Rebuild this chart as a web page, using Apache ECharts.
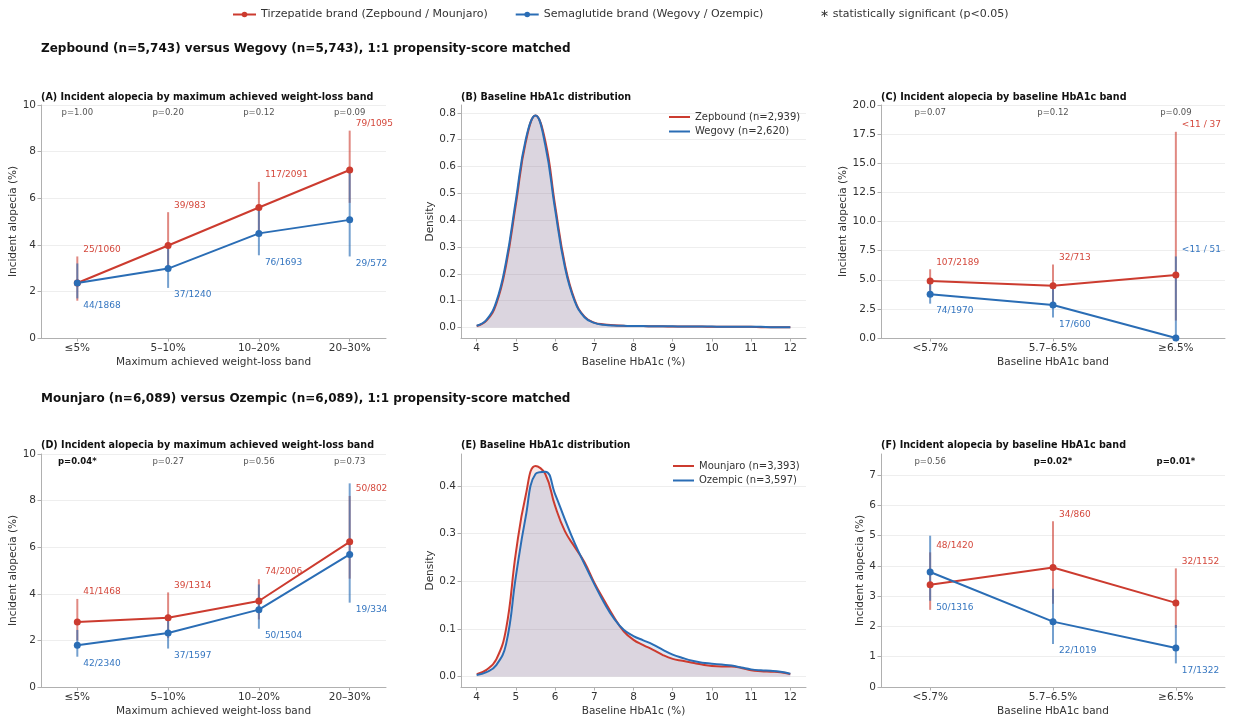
<!DOCTYPE html>
<html>
<head>
<meta charset="utf-8">
<script src="https://cdn.jsdelivr.net/npm/echarts@6/dist/echarts.min.js"></script>
<style>
  html, body { margin: 0; background: #fff; }
  #chart { width: 1233px; height: 723px; }
</style>
</head>
<body>
<div id="chart"></div>
<script>
const FONT = '"DejaVu Sans", sans-serif';
const RED = '#cc3b2f';
const BLUE = '#2a6db5';
const RED_BAR = 'rgba(204,59,47,0.6)';
const BLUE_BAR = 'rgba(42,109,181,0.65)';
const RED_TXT = '#d4483c';
const BLUE_TXT = '#3576c0';
const AXIS = '#b0b0b0';

const NAME_T = 'Tirzepatide brand (Zepbound / Mounjaro)';
const NAME_S = 'Semaglutide brand (Wegovy / Ozempic)';

// categories
const lossBands = ['≤5%', '5–10%', '10–20%', '20–30%'];
const hba1cBands = ['<5.7%', '5.7–6.5%', '≥6.5%'];

// (A) Zepbound vs Wegovy, weight-loss band
const aRed = [2.36, 3.97, 5.60, 7.21];
const aRedLo = [1.6, 2.85, 4.6, 5.8];
const aRedHi = [3.5, 5.4, 6.7, 8.9];
const aRedN = ['25/1060', '39/983', '117/2091', '79/1095'];
const aBlue = [2.36, 2.98, 4.49, 5.07];
const aBlueLo = [1.7, 2.15, 3.55, 3.5];
const aBlueHi = [3.2, 4.05, 5.5, 7.2];
const aBlueN = ['44/1868', '37/1240', '76/1693', '29/572'];
const aP = ['p=1.00', 'p=0.20', 'p=0.12', 'p=0.09'];
const aSig = [false, false, false, false];

// (C) Zepbound vs Wegovy, HbA1c band
const cRed = [4.89, 4.49, 5.41];
const cRedLo = [4.0, 3.0, 1.5];
const cRedHi = [5.9, 6.3, 17.7];
const cRedN = ['107/2189', '32/713', '<11 / 37'];
const cBlue = [3.76, 2.83, 0];
const cBlueLo = [2.95, 1.75, 0];
const cBlueHi = [4.7, 4.5, 7.0];
const cBlueN = ['74/1970', '17/600', '<11 / 51'];
const cP = ['p=0.07', 'p=0.12', 'p=0.09'];
const cSig = [false, false, false];

// (D) Mounjaro vs Ozempic, weight-loss band
const dRed = [2.79, 2.97, 3.69, 6.23];
const dRedLo = [2.0, 2.1, 2.9, 4.65];
const dRedHi = [3.78, 4.06, 4.63, 8.2];
const dRedN = ['41/1468', '39/1314', '74/2006', '50/802'];
const dBlue = [1.79, 2.32, 3.32, 5.69];
const dBlueLo = [1.3, 1.65, 2.5, 3.62];
const dBlueHi = [2.45, 3.1, 4.4, 8.74];
const dBlueN = ['42/2340', '37/1597', '50/1504', '19/334'];
const dP = ['p=0.04*', 'p=0.27', 'p=0.56', 'p=0.73'];
const dSig = [true, false, false, false];

// (F) Mounjaro vs Ozempic, HbA1c band
const fRed = [3.38, 3.95, 2.78];
const fRedLo = [2.55, 2.75, 1.95];
const fRedHi = [4.45, 5.48, 3.92];
const fRedN = ['48/1420', '34/860', '32/1152'];
const fBlue = [3.80, 2.16, 1.29];
const fBlueLo = [2.85, 1.42, 0.78];
const fBlueHi = [5.0, 3.25, 2.05];
const fBlueN = ['50/1316', '22/1019', '17/1322'];
const fP = ['p=0.56', 'p=0.02*', 'p=0.01*'];
const fSig = [false, true, true];

// density curves, baseline HbA1c (%)
const hbX = [4, 4.25, 4.5, 4.75, 5, 5.25, 5.5, 5.75, 6, 6.25, 6.5, 6.75, 7, 7.25, 7.5, 7.75, 8,
  8.25, 8.5, 8.75, 9, 9.25, 9.5, 9.75, 10, 10.25, 10.5, 10.75, 11, 11.25, 11.5, 11.75, 12];
const zepDens = [0.005, 0.025, 0.088, 0.232, 0.46, 0.69, 0.79, 0.695, 0.455, 0.235, 0.103, 0.040, 0.018, 0.011, 0.008, 0.006, 0.005,
  0.005, 0.004, 0.004, 0.003, 0.003, 0.003, 0.003, 0.002, 0.002, 0.002, 0.002, 0.002, 0.001, 0.001, 0.001, 0.001];
const wegDens = [0.006, 0.028, 0.095, 0.245, 0.475, 0.70, 0.79, 0.68, 0.44, 0.225, 0.098, 0.038, 0.017, 0.010, 0.007, 0.006, 0.005,
  0.005, 0.004, 0.004, 0.004, 0.003, 0.003, 0.003, 0.003, 0.002, 0.002, 0.002, 0.002, 0.002, 0.001, 0.001, 0.001];
const mouDens = [0.005, 0.014, 0.036, 0.10, 0.26, 0.38, 0.442, 0.425, 0.358, 0.305, 0.272, 0.24, 0.197, 0.16, 0.125, 0.095, 0.077,
  0.066, 0.056, 0.045, 0.037, 0.033, 0.029, 0.025, 0.022, 0.021, 0.021, 0.018, 0.013, 0.011, 0.010, 0.009, 0.005];
const ozeDens = [0.003, 0.009, 0.024, 0.068, 0.21, 0.335, 0.425, 0.43, 0.383, 0.33, 0.28, 0.236, 0.194, 0.155, 0.122, 0.098, 0.085,
  0.076, 0.067, 0.056, 0.046, 0.039, 0.033, 0.029, 0.027, 0.025, 0.023, 0.019, 0.015, 0.013, 0.012, 0.010, 0.006];

const grids = [
  { left: 41, top: 105, width: 345, height: 233 },
  { left: 461, top: 105, width: 345, height: 233 },
  { left: 881, top: 105, width: 344, height: 233 },
  { left: 41, top: 454, width: 345, height: 233 },
  { left: 461, top: 454, width: 345, height: 233 },
  { left: 881, top: 454, width: 344, height: 233 },
].map(g => ({ ...g, outerBoundsMode: 'none', containLabel: false }));

const range = n => Array.from({ length: n }, (_, i) => i);

function baseAxis(idx) {
  return {
    gridIndex: idx,
    axisLine: { show: true, onZero: false, lineStyle: { color: AXIS, width: 1 } },
    axisTick: { show: true, length: 3.5, lineStyle: { color: AXIS } },
    axisLabel: { color: '#333', fontSize: 10.5, fontFamily: FONT, margin: 5 },
    nameTextStyle: { color: '#333', fontSize: 10.5, fontFamily: FONT },
    nameLocation: 'middle',
    splitLine: { show: false },
  };
}

function bandX(idx, cats, name) {
  const ax = baseAxis(idx);
  const vals = range(cats.length);
  return {
    ...ax, type: 'value', min: -0.4, max: cats.length - 0.6, name, nameGap: 19,
    axisLabel: { ...ax.axisLabel, customValues: vals, formatter: v => cats[Math.round(v)] },
    axisTick: { ...ax.axisTick, customValues: vals },
  };
}

function hbXAxis(idx) {
  const ax = baseAxis(idx);
  const vals = [4, 5, 6, 7, 8, 9, 10, 11, 12];
  return {
    ...ax, type: 'value', min: 3.6, max: 12.4, name: 'Baseline HbA1c (%)', nameGap: 19,
    axisLabel: { ...ax.axisLabel, customValues: vals, formatter: v => String(v) },
    axisTick: { ...ax.axisTick, customValues: vals },
  };
}

function valY(idx, min, max, vals, digits, name, gap) {
  const ax = baseAxis(idx);
  return {
    ...ax, type: 'value', min, max, name, nameGap: gap,
    axisLabel: { ...ax.axisLabel, customValues: vals, formatter: v => v.toFixed(digits) },
    axisTick: { ...ax.axisTick, customValues: vals },
    splitLine: { show: true, lineStyle: { color: '#eeeeee', width: 1 } },
  };
}

const xAxes = [
  bandX(0, lossBands, 'Maximum achieved weight-loss band'),
  hbXAxis(1),
  bandX(2, hba1cBands, 'Baseline HbA1c band'),
  bandX(3, lossBands, 'Maximum achieved weight-loss band'),
  hbXAxis(4),
  bandX(5, hba1cBands, 'Baseline HbA1c band'),
];
const yAxes = [
  valY(0, 0, 10, [0, 2, 4, 6, 8, 10], 0, 'Incident alopecia (%)', 18),
  valY(1, -0.0395, 0.8295, [0, 0.1, 0.2, 0.3, 0.4, 0.5, 0.6, 0.7, 0.8], 1, 'Density', 22),
  valY(2, 0, 20, [0, 2.5, 5, 7.5, 10, 12.5, 15, 17.5, 20], 1, 'Incident alopecia (%)', 29),
  valY(3, 0, 10, [0, 2, 4, 6, 8, 10], 0, 'Incident alopecia (%)', 18),
  valY(4, -0.022, 0.467, [0, 0.1, 0.2, 0.3, 0.4], 1, 'Density', 22),
  valY(5, 0, 7.7, [0, 1, 2, 3, 4, 5, 6, 7], 0, 'Incident alopecia (%)', 12),
];

// vertical CI bars
function ciSeries(ax, lo, hi, color) {
  return {
    type: 'custom', xAxisIndex: ax, yAxisIndex: ax, z: 2, silent: true,
    data: lo.map((v, i) => [i, v, hi[i]]),
    renderItem: (params, api) => {
      const p1 = api.coord([api.value(0), api.value(1)]);
      const p2 = api.coord([api.value(0), api.value(2)]);
      return { type: 'line', shape: { x1: p1[0], y1: p1[1], x2: p2[0], y2: p2[1] }, style: { stroke: color, lineWidth: 2 } };
    },
  };
}

// n/N annotation: red above the upper CI, blue below the lower CI
function nSeries(ax, lo, hi, texts, color, above) {
  return {
    type: 'custom', xAxisIndex: ax, yAxisIndex: ax, z: 5, silent: true,
    data: lo.map((v, i) => [i, v, hi[i]]),
    renderItem: (params, api) => {
      const i = params.dataIndex;
      const up = above || api.value(1) <= 0;
      const p = api.coord([api.value(0), up ? api.value(2) : api.value(1)]);
      return {
        type: 'text', x: p[0] + 6, y: p[1] + (up ? -7 : 7),
        style: { text: texts[i], fill: color, fontSize: 9, fontFamily: FONT, align: 'left', verticalAlign: 'middle' },
      };
    },
  };
}

// p-values along the top of the panel
function pSeries(ax, labels, sig, ymax) {
  return {
    type: 'custom', xAxisIndex: ax, yAxisIndex: ax, z: 5, silent: true,
    data: labels.map((t, i) => [i, ymax]),
    renderItem: (params, api) => {
      const i = params.dataIndex;
      const p = api.coord([api.value(0), api.value(1)]);
      return {
        type: 'text', x: p[0], y: p[1] + 8,
        style: {
          text: labels[i], fill: sig[i] ? '#111' : '#555', fontSize: 8.5, fontFamily: FONT,
          fontWeight: sig[i] ? 'bold' : 'normal', align: 'center', verticalAlign: 'middle',
        },
      };
    },
  };
}

function pointLine(ax, name, vals, color) {
  return {
    type: 'line', name, xAxisIndex: ax, yAxisIndex: ax, z: 4,
    data: vals.map((v, i) => [i, v]),
    symbol: 'circle', symbolSize: 7, showSymbol: true,
    itemStyle: { color },
    lineStyle: { color, width: 2 },
  };
}

function densLine(ax, name, vals, color, fill) {
  return {
    type: 'line', name, xAxisIndex: ax, yAxisIndex: ax, z: 3,
    data: hbX.map((x, i) => [x, vals[i]]),
    smooth: 0.45, symbol: 'none',
    itemStyle: { color },
    lineStyle: { color, width: 2 },
    areaStyle: { color: fill, opacity: 1 },
  };
}

function panelSeries(ax, d) {
  return [
    ciSeries(ax, d.redLo, d.redHi, RED_BAR),
    ciSeries(ax, d.blueLo, d.blueHi, BLUE_BAR),
    pointLine(ax, NAME_T, d.red, RED),
    pointLine(ax, NAME_S, d.blue, BLUE),
    nSeries(ax, d.redLo, d.redHi, d.redN, RED_TXT, true),
    nSeries(ax, d.blueLo, d.blueHi, d.blueN, BLUE_TXT, false),
    pSeries(ax, d.p, d.sig, d.ymax),
  ];
}

const series = [
  ...panelSeries(0, { red: aRed, redLo: aRedLo, redHi: aRedHi, redN: aRedN, blue: aBlue, blueLo: aBlueLo, blueHi: aBlueHi, blueN: aBlueN, p: aP, sig: aSig, ymax: 10 }),
  ...panelSeries(2, { red: cRed, redLo: cRedLo, redHi: cRedHi, redN: cRedN, blue: cBlue, blueLo: cBlueLo, blueHi: cBlueHi, blueN: cBlueN, p: cP, sig: cSig, ymax: 20 }),
  ...panelSeries(3, { red: dRed, redLo: dRedLo, redHi: dRedHi, redN: dRedN, blue: dBlue, blueLo: dBlueLo, blueHi: dBlueHi, blueN: dBlueN, p: dP, sig: dSig, ymax: 10 }),
  ...panelSeries(5, { red: fRed, redLo: fRedLo, redHi: fRedHi, redN: fRedN, blue: fBlue, blueLo: fBlueLo, blueHi: fBlueHi, blueN: fBlueN, p: fP, sig: fSig, ymax: 7.7 }),
  densLine(1, 'Zepbound (n=2,939)', zepDens, RED, 'rgba(204,59,47,0.12)'),
  densLine(1, 'Wegovy (n=2,620)', wegDens, BLUE, 'rgba(42,109,181,0.14)'),
  densLine(4, 'Mounjaro (n=3,393)', mouDens, RED, 'rgba(204,59,47,0.12)'),
  densLine(4, 'Ozempic (n=3,597)', ozeDens, BLUE, 'rgba(42,109,181,0.14)'),
];

const panelTitle = (text, left, top) => ({
  text, left, top, padding: 0,
  textStyle: { fontSize: 9.6, fontWeight: 'bold', color: '#111', fontFamily: FONT },
});
const sectionTitle = (text, top) => ({
  text, left: 41, top, padding: 0,
  textStyle: { fontSize: 12, fontWeight: 'bold', color: '#111', fontFamily: FONT },
});

const densLegend = (names, left, top) => ({
  data: names, left, top, orient: 'vertical', selectedMode: false, padding: 0,
  itemWidth: 21, itemHeight: 10, itemGap: 4.5,
  itemStyle: { color: 'rgba(0,0,0,0)', borderWidth: 0 },
  textStyle: { fontSize: 10, color: '#333', fontFamily: FONT },
});

const option = {
  animation: false,
  backgroundColor: '#fff',
  textStyle: { fontFamily: FONT },
  title: [
    sectionTitle('Zepbound (n=5,743) versus Wegovy (n=5,743), 1:1 propensity-score matched', 43),
    sectionTitle('Mounjaro (n=6,089) versus Ozempic (n=6,089), 1:1 propensity-score matched', 393),
    panelTitle('(A) Incident alopecia by maximum achieved weight-loss band', 41, 92),
    panelTitle('(B) Baseline HbA1c distribution', 461, 92),
    panelTitle('(C) Incident alopecia by baseline HbA1c band', 881, 92),
    panelTitle('(D) Incident alopecia by maximum achieved weight-loss band', 41, 440),
    panelTitle('(E) Baseline HbA1c distribution', 461, 440),
    panelTitle('(F) Incident alopecia by baseline HbA1c band', 881, 440),
  ],
  legend: [
    {
      data: [NAME_T, NAME_S], left: 232, top: 9, selectedMode: false, padding: 0,
      itemWidth: 23, itemHeight: 7, itemGap: 27,
      textStyle: { fontSize: 11, color: '#333', fontFamily: FONT },
    },
    densLegend(['Zepbound (n=2,939)', 'Wegovy (n=2,620)'], 668, 112),
    densLegend(['Mounjaro (n=3,393)', 'Ozempic (n=3,597)'], 672, 461),
  ],
  graphic: [
    {
      type: 'text', left: 820, top: 9,
      style: { text: '∗ statistically significant (p<0.05)', fill: '#333', fontSize: 11, fontFamily: FONT },
    },
  ],
  grid: grids,
  xAxis: xAxes,
  yAxis: yAxes,
  series,
};

const chart = echarts.init(document.getElementById('chart'), null, { renderer: 'canvas' });
chart.setOption(option);
</script>
</body>
</html>
